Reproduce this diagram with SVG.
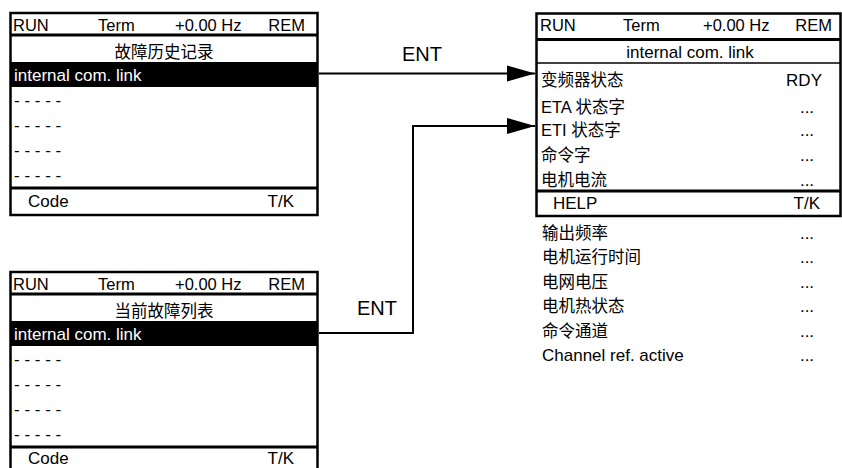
<svg xmlns="http://www.w3.org/2000/svg" width="842" height="468" viewBox="0 0 842 468">
<style>
text{font-family:"Liberation Sans","Noto Sans CJK SC",Arial,sans-serif;fill:#000;font-size:17px}
.h{font-size:16.5px}
.w{fill:#fff}
.m{text-anchor:middle}
.e{text-anchor:end}
.cjk{font-size:16.5px}
.frame{fill:#fff;stroke:#000;stroke-width:2.5}
.thick{stroke:#000;stroke-width:3}
.thin{stroke:#000;stroke-width:1.5}
.conn{fill:none;stroke:#000;stroke-width:2}
.lbl{font-size:20px}
</style>
<defs>
<marker id="ah" markerUnits="userSpaceOnUse" markerWidth="29" markerHeight="18" refX="28" refY="9" orient="auto">
<path d="M0,1 L28,9 L0,17 z" fill="#000"/>
</marker>
</defs>

<g id="screen-history">
<rect class="frame" x="10.5" y="13" width="307" height="202"/>
<line class="thick" x1="10" y1="35" x2="318" y2="35"/>
<rect x="10" y="62" width="308" height="25" fill="#000"/>
<line class="thick" x1="10" y1="188" x2="318" y2="188"/>
<text class="h" x="13" y="31">RUN</text>
<text class="h" x="98" y="31">Term</text>
<text class="h" x="175" y="31">+0.00 Hz</text>
<text class="h e" x="305" y="31">REM</text>
<text class="cjk m" x="164" y="58">故障历史记录</text>
<text class="w" x="14" y="81">internal com. link</text>
<text x="14" y="106">- - - - -</text>
<text x="14" y="131">- - - - -</text>
<text x="14" y="156">- - - - -</text>
<text x="14" y="181">- - - - -</text>
<text x="28" y="207">Code</text>
<text class="e" x="294" y="207">T/K</text>
</g>

<g id="screen-current">
<rect class="frame" x="10.5" y="272" width="307" height="202"/>
<line class="thick" x1="10" y1="294" x2="318" y2="294"/>
<rect x="10" y="321" width="308" height="25" fill="#000"/>
<line class="thick" x1="10" y1="447" x2="318" y2="447"/>
<text class="h" x="13" y="290">RUN</text>
<text class="h" x="98" y="290">Term</text>
<text class="h" x="175" y="290">+0.00 Hz</text>
<text class="h e" x="305" y="290">REM</text>
<text class="cjk m" x="164" y="317">当前故障列表</text>
<text class="w" x="14" y="340">internal com. link</text>
<text x="14" y="365">- - - - -</text>
<text x="14" y="390">- - - - -</text>
<text x="14" y="415">- - - - -</text>
<text x="14" y="440">- - - - -</text>
<text x="28" y="463.5">Code</text>
<text class="e" x="294" y="463.5">T/K</text>
</g>

<g id="screen-detail">
<rect class="frame" x="536.5" y="13.5" width="304" height="202.5"/>
<line class="thick" x1="536" y1="39.5" x2="841" y2="39.5"/>
<line class="thin" x1="536" y1="63" x2="841" y2="63"/>
<line class="thick" x1="536" y1="191" x2="841" y2="191"/>
<text class="h" x="540" y="31">RUN</text>
<text class="h" x="623" y="31">Term</text>
<text class="h" x="703" y="31">+0.00 Hz</text>
<text class="h e" x="832" y="31">REM</text>
<text class="m" x="690" y="58">internal com. link</text>
<text class="cjk" x="541" y="86">变频器状态</text>
<text class="e" x="822" y="86">RDY</text>
<text class="cjk" x="541" y="113">ETA 状态字</text>
<text class="m" x="807" y="113">...</text>
<text class="cjk" x="541" y="136">ETI 状态字</text>
<text class="m" x="807" y="136">...</text>
<text class="cjk" x="541" y="161">命令字</text>
<text class="m" x="807" y="161">...</text>
<text class="cjk" x="541" y="186">电机电流</text>
<text class="m" x="807" y="186">...</text>
<text x="553" y="209">HELP</text>
<text class="e" x="820" y="209">T/K</text>
</g>

<g id="detail-list">
<text class="cjk" x="542" y="239">输出频率</text>
<text class="m" x="807" y="239">...</text>
<text class="cjk" x="542" y="263">电机运行时间</text>
<text class="m" x="807" y="263">...</text>
<text class="cjk" x="542" y="288">电网电压</text>
<text class="m" x="807" y="288">...</text>
<text class="cjk" x="542" y="312">电机热状态</text>
<text class="m" x="807" y="312">...</text>
<text class="cjk" x="542" y="337">命令通道</text>
<text class="m" x="807" y="337">...</text>
<text x="542" y="361">Channel ref. active</text>
<text class="m" x="807" y="361">...</text>
</g>

<g id="connectors">
<path class="conn" d="M319,73.5 H535" marker-end="url(#ah)"/>
<path class="conn" d="M319,333 H413 V126 H535" marker-end="url(#ah)"/>
<text class="lbl m" x="422" y="61">ENT</text>
<text class="lbl m" x="377" y="315">ENT</text>
</g>
</svg>
